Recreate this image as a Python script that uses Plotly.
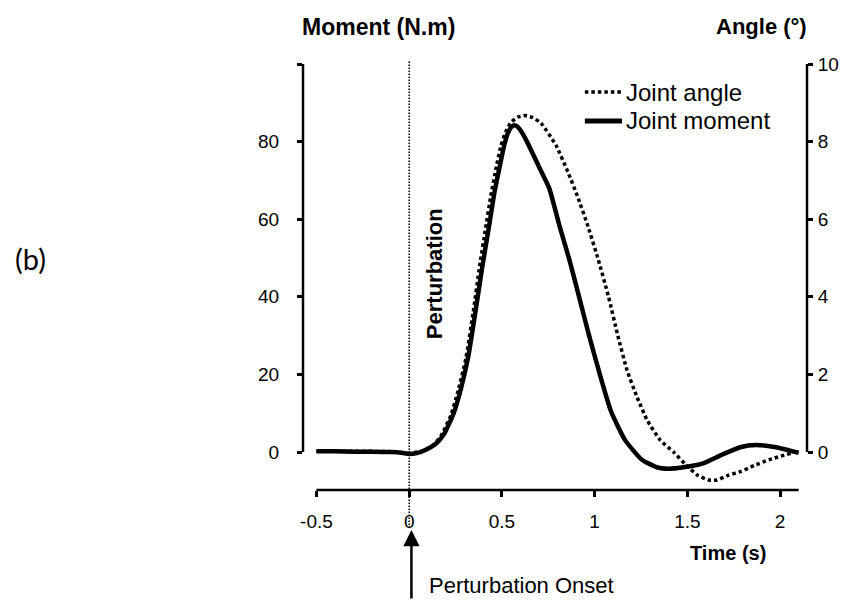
import plotly.graph_objects as go

# ---------------- data ----------------
time_moment = [-0.5, -0.4, -0.3, -0.2, -0.1, -0.04, 0.0, 0.04, 0.09, 0.15, 0.19, 0.24, 0.28,
               0.32, 0.36, 0.395, 0.43, 0.46, 0.49, 0.512, 0.532, 0.55, 0.567, 0.583, 0.602,
               0.635, 0.705, 0.755, 0.812, 0.864, 0.916, 0.97, 1.028, 1.088, 1.165, 1.255,
               1.34, 1.40, 1.47, 1.58, 1.69, 1.79, 1.87, 1.97, 2.1]
moment = [0.2, 0.2, 0.1, 0.1, 0.0, -0.2, -0.5, -0.3, 0.6, 2.4, 4.8, 10.0, 16.5,
          25.0, 37.0, 48.0, 58.0, 67.0, 74.0, 79.0, 82.2, 83.7, 84.2, 83.9, 82.8,
          80.0, 73.0, 68.0, 58.0, 49.5, 40.0, 30.0, 20.0, 10.5, 3.0, -2.0,
          -4.0, -4.3, -4.0, -3.0, -0.6, 1.3, 1.8, 1.3, -0.2]

time_angle = [-0.5, -0.3, -0.1, 0.0, 0.075, 0.135, 0.175, 0.225, 0.265, 0.305, 0.345, 0.38,
              0.41, 0.44, 0.47, 0.495, 0.52, 0.55, 0.585, 0.625, 0.665, 0.71, 0.792, 0.857,
              0.907, 0.965, 1.02, 1.075, 1.125, 1.175, 1.23, 1.285, 1.355, 1.425, 1.492, 1.555,
              1.615, 1.66, 1.72, 1.79, 1.86, 1.94, 2.06]
angle = [0.02, 0.02, 0.01, -0.03, 0.03, 0.2, 0.45, 0.95, 1.6, 2.4, 3.6, 4.8,
         5.7, 6.6, 7.35, 7.9, 8.25, 8.5, 8.63, 8.67, 8.62, 8.48, 7.9, 7.2,
         6.6, 5.8, 4.95, 4.0, 3.0, 2.1, 1.4, 0.8, 0.3, 0.0, -0.33, -0.6,
         -0.72, -0.72, -0.6, -0.5, -0.35, -0.2, -0.03]

series_names = ["Joint angle", "Joint moment"]
x_ticks = [-0.5, 0, 0.5, 1, 1.5, 2]
x_tick_text = ["-0.5", "0", "0.5", "1", "1.5", "2"]
moment_ticks = [0, 20, 40, 60, 80, 100]
moment_tick_text = ["0", "20", "40", "60", "80", ""]
angle_ticks = [0, 2, 4, 6, 8, 10]
angle_tick_text = ["0", "2", "4", "6", "8", "10"]

# ---------------- layout geometry ----------------
W, H = 851, 607
L, R, T, B = 303, 33, 60, 117
plot_w = W - L - R
plot_h = H - T - B
x_range = [-0.5726, 2.145]
y_range = [-9.79, 101.03]
y2_range = [y_range[0] / 10, y_range[1] / 10]

def px_x(xp):
    return (xp - L) / plot_w

def px_y(yp):
    return (H - B - yp) / plot_h

FONT = "Liberation Sans, Arial, sans-serif"
ANGLE_DASH = "3.5px,3px"

fig = go.Figure()
fig.add_trace(go.Scatter(
    x=time_angle, y=angle, yaxis="y2", name=series_names[0], mode="lines", showlegend=False,
    line=dict(color="black", width=3.5, dash=ANGLE_DASH, shape="spline", smoothing=0.5),
))
fig.add_trace(go.Scatter(
    x=time_moment, y=moment, name=series_names[1], mode="lines", showlegend=False,
    line=dict(color="black", width=4.5, shape="spline", smoothing=0.5),
))

axis_common = dict(showgrid=False, zeroline=False, showline=False, ticks="outside",
                   tickcolor="black", tickwidth=2.5, tickfont=dict(family=FONT, size=19, color="black"))

fig.update_layout(
    width=W, height=H,
    margin=dict(l=L, r=R, t=T, b=B, pad=0),
    paper_bgcolor="white", plot_bgcolor="white",
    showlegend=False,
    xaxis=dict(range=x_range, tickvals=x_ticks, ticktext=x_tick_text, ticklen=6,
               ticklabelstandoff=8, **axis_common),
    yaxis=dict(range=y_range, tickvals=moment_ticks, ticktext=moment_tick_text, ticklen=5,
               ticklabelstandoff=14, **axis_common),
    yaxis2=dict(range=y2_range, tickvals=angle_ticks, ticktext=angle_tick_text, ticklen=5,
                overlaying="y", side="right", ticklabelstandoff=1, **axis_common),
)

# axis lines (only spanning the labelled extents, as in the reference)
fig.add_shape(type="line", xref="x", yref="paper", x0=-0.5, x1=2.1, y0=0, y1=0,
              line=dict(color="black", width=2.5))
fig.add_shape(type="line", xref="paper", yref="y", x0=0, x1=0, y0=0, y1=100,
              line=dict(color="black", width=2.5))
fig.add_shape(type="line", xref="paper", yref="y2", x0=1, x1=1, y0=0, y1=10,
              line=dict(color="black", width=2.5))
# perturbation onset dotted line
fig.add_shape(type="line", xref="x", yref="paper", x0=0, x1=0, y0=px_y(528), y1=1,
              line=dict(color="black", width=1.5, dash="1.5px,1.5px"))

# legend (keys + labels)
legend_rows = [(92, dict(color="black", width=3.5, dash=ANGLE_DASH)),
               (121, dict(color="black", width=5))]
for name, (ypx, style) in zip(series_names, legend_rows):
    fig.add_shape(type="line", xref="paper", yref="paper", x0=px_x(591), x1=px_x(629),
                  y0=px_y(ypx), y1=px_y(ypx), line=style)
    fig.add_annotation(text=name, xref="paper", yref="paper", x=px_x(631), y=px_y(ypx),
                       showarrow=False, font=dict(family=FONT, size=24, color="black"),
                       xanchor="left", yanchor="middle")

def bold(size):
    return dict(family=FONT, size=size, color="black")

fig.add_annotation(text="<b>Moment (N.m)</b>", xref="paper", yref="paper", x=px_x(380), y=px_y(27),
                   showarrow=False, font=bold(23), xanchor="center", yanchor="middle")
fig.add_annotation(text="<b>Angle (°)</b>", xref="paper", yref="paper", x=px_x(771), y=px_y(27),
                   showarrow=False, font=bold(22), xanchor="center", yanchor="middle")
fig.add_annotation(text="<b>Time (s)</b>", xref="paper", yref="paper", x=px_x(737), y=px_y(553),
                   showarrow=False, font=bold(20), xanchor="center", yanchor="middle")
fig.add_annotation(text="<b>Perturbation</b>", xref="paper", yref="paper", x=px_x(437), y=px_y(274),
                   showarrow=False, textangle=-90, font=bold(22),
                   xanchor="center", yanchor="middle")
fig.add_annotation(text="Perturbation Onset", xref="paper", yref="paper", x=px_x(430), y=px_y(585),
                   showarrow=False, font=dict(family=FONT, size=22, color="black"),
                   xanchor="left", yanchor="middle")
fig.add_annotation(text="(b)", xref="paper", yref="paper", x=px_x(25), y=px_y(258),
                   showarrow=False, font=dict(family="Lato, Open Sans, sans-serif", size=29, color="black"),
                   xanchor="center", yanchor="middle")
# arrow pointing to perturbation onset
fig.add_annotation(text="", xref="x", yref="paper", x=0.012, y=px_y(530),
                   showarrow=True, ax=0, ay=70, axref="pixel", ayref="pixel",
                   arrowhead=2, arrowsize=1.3, arrowwidth=2.5, arrowcolor="black")

fig.write_html("out.html")
